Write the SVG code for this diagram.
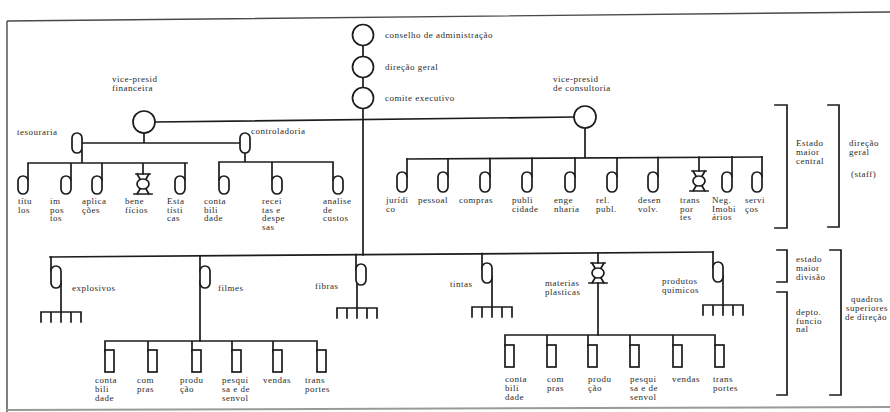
<svg xmlns="http://www.w3.org/2000/svg" width="890" height="412" viewBox="0 0 890 412">
  <style>
    .ln { fill: none; stroke: #1c1c1c; stroke-width: 1.7; stroke-linecap: square; }
    .nd { fill: #fff; stroke: #1c1c1c; stroke-width: 1.7; }
    .frame { fill: none; stroke: #4a4a4a; stroke-width: 1.4; }
    .t { font-family: "Liberation Serif", "DejaVu Serif", serif; font-size: 9px; letter-spacing: 0.5px; fill: #2b2b2b; }
    .tc { text-anchor: middle; }
  </style>
  <defs>
    <!-- hourglass glyph with a ring in the middle -->
    <g id="bowtie" class="ln">
      <path d="M-7,-10 H7 M-9,10 H9 M-6,-10 L6,10 M6,-10 L-6,10"/>
      <ellipse cx="0" cy="0" rx="6" ry="5" fill="#fff"/>
    </g>
    <!-- five-pronged comb under each division -->
    <path id="rake" d="M-20,0 H20 M-20,0 V10 M-10,0 V10 M0,0 V10 M10,0 V10 M20,0 V10" class="ln"/>
  </defs>

  <rect width="890" height="412" fill="#fff"/>

  <!-- page frame -->
  <path class="frame" d="M7,21 L890,12 M7,21 V412"/>
  <path d="M7,410 L890,407" fill="none" stroke="#9a9a9a" stroke-width="2"/>

  <!-- connectors -->
  <g id="connectors" class="ln">
    <!-- top chain and trunk -->
    <path d="M363,45.5 V56.5 M363,77.5 V87.5 M363,108.5 V255"/>
    <!-- vice presidents -->
    <path d="M155,122 L574,117"/>
    <!-- finance branch -->
    <path d="M144,133 V143 M82,143 H240"/>
    <path d="M82,150 V163 M28,163 H187 M28,163 V180 M71,163 V180 M102,163 V180 M143,163 V174 M185,163 V180"/>
    <path d="M245,151 V162 M219,162 H333 M219,162 V180 M272,162 V180 M333,162 V180"/>
    <!-- consulting branch -->
    <path d="M585,128 V158 M407,159 L762,157"/>
    <path d="M407,159 V177 M448,158.8 V177 M490,158.5 V177 M532,158.3 V177 M575,158 V177 M617,157.8 V177 M658,157.6 V177 M699,157.4 V171 M732,157.2 V177 M762,157 V177"/>
    <!-- divisions bar -->
    <path d="M50,257 L713,252"/>
    <path d="M51,257 V272 M61,281 V312"/>
    <path d="M200,256 V272 M200,281 V341"/>
    <path d="M356,254.7 V270 M357,278 V308"/>
    <path d="M482,253.7 V269 M492,276 V307"/>
    <path d="M598,253 V263 M598,283 V335"/>
    <path d="M713,252 V268 M723,275 V305"/>
    <!-- functional departments, left -->
    <path d="M105,341 H317 M105,341 V352 M148,341 V352 M192,341 V352 M232,341 V352 M273,341 V352 M317,341 V352"/>
    <!-- functional departments, right -->
    <path d="M505,335 H715 M505,335 V346 M547,335 V346 M588,335 V346 M630,335 V346 M673,335 V346 M715,335 V346"/>
  </g>

  <!-- top management -->
  <g id="conselho">
    <circle cx="363" cy="35" r="10.5" class="nd"/>
    <text x="385" y="38" class="t">conselho de administração</text>
  </g>
  <g id="direcao">
    <circle cx="363" cy="67" r="10.5" class="nd"/>
    <text x="385" y="70" class="t">direção geral</text>
  </g>
  <g id="comite">
    <circle cx="363" cy="98" r="10.5" class="nd"/>
    <text x="385" y="101" class="t">comite executivo</text>
  </g>
  <g id="vp-financeira">
    <circle cx="144" cy="122" r="11" class="nd"/>
    <text x="112" y="82" class="t">vice-presid<tspan x="112" dy="9">financeira</tspan></text>
  </g>
  <g id="vp-consultoria">
    <circle cx="585" cy="117" r="11" class="nd"/>
    <text x="553" y="82" class="t">vice-presid<tspan x="553" dy="9">de consultoria</tspan></text>
  </g>

  <!-- finance branch -->
  <g id="tesouraria">
    <rect x="72" y="133" width="10" height="20" rx="5" class="nd"/>
    <text x="17" y="135" class="t">tesouraria</text>
  </g>
  <g id="controladoria">
    <rect x="240" y="133" width="10" height="20" rx="5" class="nd"/>
    <text x="251" y="134" class="t">controladoria</text>
  </g>
  <g id="titulos">
    <rect x="18" y="176" width="10" height="18" rx="5" class="nd"/>
    <text x="18" y="204" class="t">títu<tspan x="18" dy="8.5">los</tspan></text>
  </g>
  <g id="impostos">
    <rect x="61" y="176" width="10" height="18" rx="5" class="nd"/>
    <text x="50" y="204" class="t">im<tspan x="50" dy="8.5">pos</tspan><tspan x="50" dy="8.5">tos</tspan></text>
  </g>
  <g id="aplicacoes">
    <rect x="92" y="176" width="10" height="18" rx="5" class="nd"/>
    <text x="82" y="204" class="t">aplica<tspan x="82" dy="8.5">ções</tspan></text>
  </g>
  <g id="beneficios">
    <use href="#bowtie" x="143" y="184"/>
    <text x="125" y="204" class="t">bene<tspan x="125" dy="8.5">fícios</tspan></text>
  </g>
  <g id="estatisticas">
    <rect x="175" y="176" width="10" height="18" rx="5" class="nd"/>
    <text x="167" y="204" class="t">Esta<tspan x="167" dy="8.5">tísti</tspan><tspan x="167" dy="8.5">cas</tspan></text>
  </g>
  <g id="contabilidade">
    <rect x="219" y="176" width="10" height="18" rx="5" class="nd"/>
    <text x="204" y="204" class="t">conta<tspan x="204" dy="8.5">bili</tspan><tspan x="204" dy="8.5">dade</tspan></text>
  </g>
  <g id="receitas">
    <rect x="272" y="176" width="10" height="18" rx="5" class="nd"/>
    <text x="262" y="204" class="t">recei<tspan x="262" dy="8.5">tas e</tspan><tspan x="262" dy="8.5">despe</tspan><tspan x="262" dy="8.5">sas</tspan></text>
  </g>
  <g id="custos">
    <rect x="333" y="176" width="10" height="18" rx="5" class="nd"/>
    <text x="323" y="204" class="t">analise<tspan x="323" dy="8.5">de</tspan><tspan x="323" dy="8.5">custos</tspan></text>
  </g>

  <!-- consulting branch -->
  <g id="juridico">
    <rect x="397" y="172" width="10" height="20" rx="5" class="nd"/>
    <text x="386" y="203" class="t">jurídi<tspan x="386" dy="8.5">co</tspan></text>
  </g>
  <g id="pessoal">
    <rect x="438" y="172" width="10" height="20" rx="5" class="nd"/>
    <text x="418" y="203" class="t">pessoal</text>
  </g>
  <g id="compras">
    <rect x="480" y="172" width="10" height="20" rx="5" class="nd"/>
    <text x="459" y="203" class="t">compras</text>
  </g>
  <g id="publicidade">
    <rect x="522" y="172" width="10" height="20" rx="5" class="nd"/>
    <text x="512" y="203" class="t">publi<tspan x="512" dy="8.5">cidade</tspan></text>
  </g>
  <g id="engenharia">
    <rect x="565" y="172" width="10" height="20" rx="5" class="nd"/>
    <text x="554" y="203" class="t">enge<tspan x="554" dy="8.5">nharia</tspan></text>
  </g>
  <g id="rel-publ">
    <rect x="607" y="172" width="10" height="20" rx="5" class="nd"/>
    <text x="596" y="203" class="t">rel.<tspan x="596" dy="8.5">publ.</tspan></text>
  </g>
  <g id="desenvolv">
    <rect x="648" y="172" width="10" height="20" rx="5" class="nd"/>
    <text x="638" y="203" class="t">desen<tspan x="638" dy="8.5">volv.</tspan></text>
  </g>
  <g id="transportes-staff">
    <use href="#bowtie" x="699" y="181"/>
    <text x="680" y="203" class="t">trans<tspan x="680" dy="8.5">por</tspan><tspan x="680" dy="8.5">tes</tspan></text>
  </g>
  <g id="neg-imobiliarios">
    <rect x="722" y="172" width="10" height="20" rx="5" class="nd"/>
    <text x="712" y="203" class="t">Neg.<tspan x="712" dy="8.5">Imobi</tspan><tspan x="712" dy="8.5">ários</tspan></text>
  </g>
  <g id="servicos">
    <rect x="752" y="172" width="10" height="20" rx="5" class="nd"/>
    <text x="745" y="203" class="t">servi<tspan x="745" dy="8.5">ços</tspan></text>
  </g>

  <!-- divisions -->
  <g id="explosivos">
    <rect x="51" y="266" width="10" height="22" rx="5" class="nd"/>
    <use href="#rake" x="61" y="312"/>
    <text x="72" y="291" class="t">explosivos</text>
  </g>
  <g id="filmes">
    <rect x="200" y="266" width="10" height="22" rx="5" class="nd"/>
    <text x="218" y="291" class="t">filmes</text>
  </g>
  <g id="fibras">
    <rect x="356" y="264" width="10" height="21" rx="5" class="nd"/>
    <use href="#rake" x="357" y="308"/>
    <text x="315" y="289" class="t">fibras</text>
  </g>
  <g id="tintas">
    <rect x="482" y="263" width="10" height="20" rx="5" class="nd"/>
    <use href="#rake" x="492" y="307"/>
    <text x="450" y="287" class="t">tintas</text>
  </g>
  <g id="materias-plasticas">
    <use href="#bowtie" x="598" y="273"/>
    <text x="545" y="286" class="t">materias<tspan x="545" dy="9">plasticas</tspan></text>
  </g>
  <g id="produtos-quimicos">
    <rect x="713" y="262" width="10" height="20" rx="5" class="nd"/>
    <use href="#rake" x="723" y="305"/>
    <text x="662" y="284" class="t">produtos<tspan x="662" dy="9">quimicos</tspan></text>
  </g>

  <!-- functional departments under filmes -->
  <g id="f-contabilidade">
    <rect x="105" y="350" width="9" height="22" class="nd"/>
    <text x="95" y="383" class="t">conta<tspan x="95" dy="9">bili</tspan><tspan x="95" dy="9">dade</tspan></text>
  </g>
  <g id="f-compras">
    <rect x="148" y="350" width="9" height="22" class="nd"/>
    <text x="137" y="383" class="t">com<tspan x="137" dy="9">pras</tspan></text>
  </g>
  <g id="f-producao">
    <rect x="192" y="350" width="9" height="22" class="nd"/>
    <text x="180" y="383" class="t">produ<tspan x="180" dy="9">ção</tspan></text>
  </g>
  <g id="f-pesquisa">
    <rect x="232" y="350" width="9" height="22" class="nd"/>
    <text x="222" y="383" class="t">pesqui<tspan x="222" dy="9">sa e de</tspan><tspan x="222" dy="9">senvol</tspan></text>
  </g>
  <g id="f-vendas">
    <rect x="273" y="350" width="9" height="22" class="nd"/>
    <text x="263" y="383" class="t">vendas</text>
  </g>
  <g id="f-transportes">
    <rect x="317" y="350" width="9" height="22" class="nd"/>
    <text x="305" y="383" class="t">trans<tspan x="305" dy="9">portes</tspan></text>
  </g>

  <!-- functional departments under materias plasticas -->
  <g id="m-contabilidade">
    <rect x="505" y="345" width="9" height="22" class="nd"/>
    <text x="505" y="382" class="t">conta<tspan x="505" dy="9">bili</tspan><tspan x="505" dy="9">dade</tspan></text>
  </g>
  <g id="m-compras">
    <rect x="547" y="345" width="9" height="22" class="nd"/>
    <text x="547" y="382" class="t">com<tspan x="547" dy="9">pras</tspan></text>
  </g>
  <g id="m-producao">
    <rect x="588" y="345" width="9" height="22" class="nd"/>
    <text x="588" y="382" class="t">produ<tspan x="588" dy="9">ção</tspan></text>
  </g>
  <g id="m-pesquisa">
    <rect x="630" y="345" width="9" height="22" class="nd"/>
    <text x="630" y="382" class="t">pesqui<tspan x="630" dy="9">sa e de</tspan><tspan x="630" dy="9">senvol</tspan></text>
  </g>
  <g id="m-vendas">
    <rect x="673" y="345" width="9" height="22" class="nd"/>
    <text x="672" y="382" class="t">vendas</text>
  </g>
  <g id="m-transportes">
    <rect x="715" y="345" width="9" height="22" class="nd"/>
    <text x="713" y="382" class="t">trans<tspan x="713" dy="9">portes</tspan></text>
  </g>

  <!-- level brackets -->
  <g id="estado-maior-central">
    <path class="ln" d="M775,105 H787 V228 H775"/>
    <text x="796" y="146" class="t">Estado<tspan x="796" dy="9">maior</tspan><tspan x="796" dy="9">central</tspan></text>
  </g>
  <g id="direcao-geral-staff">
    <path class="ln" d="M828,105 H839 V227 H828"/>
    <text x="849" y="146" class="t">direção<tspan x="849" dy="9">geral</tspan><tspan x="851" dy="22">(staff)</tspan></text>
  </g>
  <g id="estado-maior-divisao">
    <path class="ln" d="M777,250 H787 V282 H777"/>
    <text x="796" y="262" class="t">estado<tspan x="796" dy="9">maior</tspan><tspan x="796" dy="9">divisão</tspan></text>
  </g>
  <g id="depto-funcional">
    <path class="ln" d="M777,292 H787 V395 H777"/>
    <text x="796" y="315" class="t">depto.<tspan x="796" dy="8.5">funcio</tspan><tspan x="796" dy="8.5">nal</tspan></text>
  </g>
  <g id="quadros-superiores">
    <path class="ln" d="M830,250 H841 V395 H830"/>
    <text x="867" y="302" class="t tc">quadros<tspan x="867" dy="9">superiores</tspan><tspan x="866" dy="9">de direção</tspan></text>
  </g>
</svg>
